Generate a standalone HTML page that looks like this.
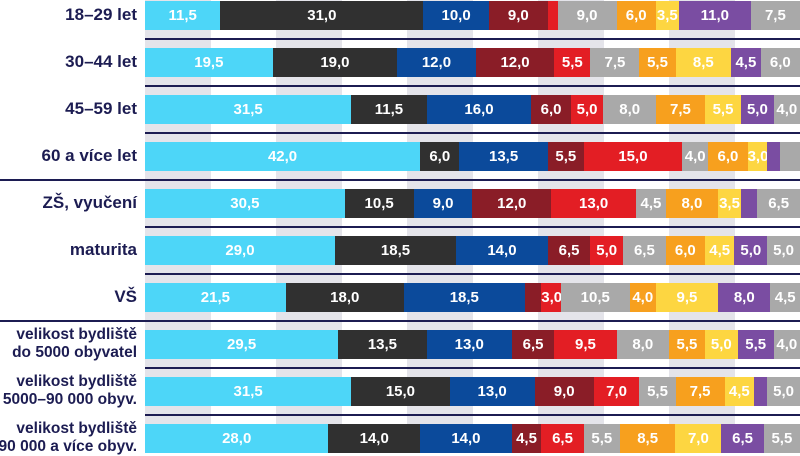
<!DOCTYPE html>
<html><head><meta charset="utf-8"><style>
body{margin:0;width:800px;height:449px;overflow:hidden;background:#fff;position:relative;font-family:"Liberation Sans",sans-serif}
.st{position:absolute;top:0;height:449px;background:#e4e4ea;width:65.5px}
.sep{position:absolute;height:2px;background:#1c1c52;left:145px;right:0}
.lab{position:absolute;right:663px;width:145px;text-align:right;color:#1c1c52;font-weight:bold;font-size:17px;line-height:18px}
.lab.t{font-size:15.5px}
.bar{position:absolute;left:145px;height:29px;display:flex;width:655px}
.bar div{height:29px;color:#fff;font-weight:bold;font-size:15px;line-height:29px;text-align:center;overflow:visible;white-space:nowrap}
</style></head><body>
<div class="st" style="left:145px"></div><div class="st" style="left:276px"></div><div class="st" style="left:407px"></div><div class="st" style="left:538px"></div><div class="st" style="left:669px"></div>
<div id="c"></div>
<script>
const C=['#4dd6f8','#303030','#0b4a9b','#8a1d27','#e31e24','#a9a9a9','#f7a01e','#fdd641','#7a4da2','#a9a9a9'];
const rows=[
["18–29 let",[11.5,31,10,9,1.5,9,6,3.5,11,7.5],[1,1,1,1,0,1,1,1,1,1]],
["30–44 let",[19.5,19,12,12,5.5,7.5,5.5,8.5,4.5,6]],
["45–59 let",[31.5,11.5,16,6,5,8,7.5,5.5,5,4]],
["60 a více let",[42,6,13.5,5.5,15,4,6,3,2,3],[1,1,1,1,1,1,1,1,0,0]],
["ZŠ, vyučení",[30.5,10.5,9,12,13,4.5,8,3.5,2.5,6.5],[1,1,1,1,1,1,1,1,0,1]],
["maturita",[29,18.5,14,6.5,5,6.5,6,4.5,5,5]],
["VŠ",[21.5,18,18.5,2.5,3,10.5,4,9.5,8,4.5],[1,1,1,0,1,1,1,1,1,1]],
["velikost bydliště<br>do 5000 obyvatel",[29.5,13.5,13,6.5,9.5,8,5.5,5,5.5,4]],
["velikost bydliště<br>5000–90 000 obyv.",[31.5,15,13,9,7,5.5,7.5,4.5,2,5],[1,1,1,1,1,1,1,1,0,1]],
["velikost bydliště<br>90 000 a více obyv.",[28,14,14,4.5,6.5,5.5,8.5,7,6.5,5.5]]];
let h='';
rows.forEach((r,i)=>{const cy=15+47*i;const two=r[0].includes('<br>');
h+=`<div class="lab${two?' t':''}" style="top:${cy-(two?18:9)}px">${r[0]}</div><div class="bar" style="top:${cy-14.5}px">`;
r[1].forEach((v,j)=>{const show=!r[2]||r[2][j];h+=`<div style="width:${v*6.55}px;background:${C[j]}">${show?v.toFixed(1).replace('.',','):''}</div>`});
h+='</div>';
if(i<9){const full=(i==3||i==6);h+=`<div class="sep" style="top:${cy+23}px;${full?'left:0':''}"></div>`;}
});
document.getElementById('c').innerHTML=h;
</script>
</body></html>
